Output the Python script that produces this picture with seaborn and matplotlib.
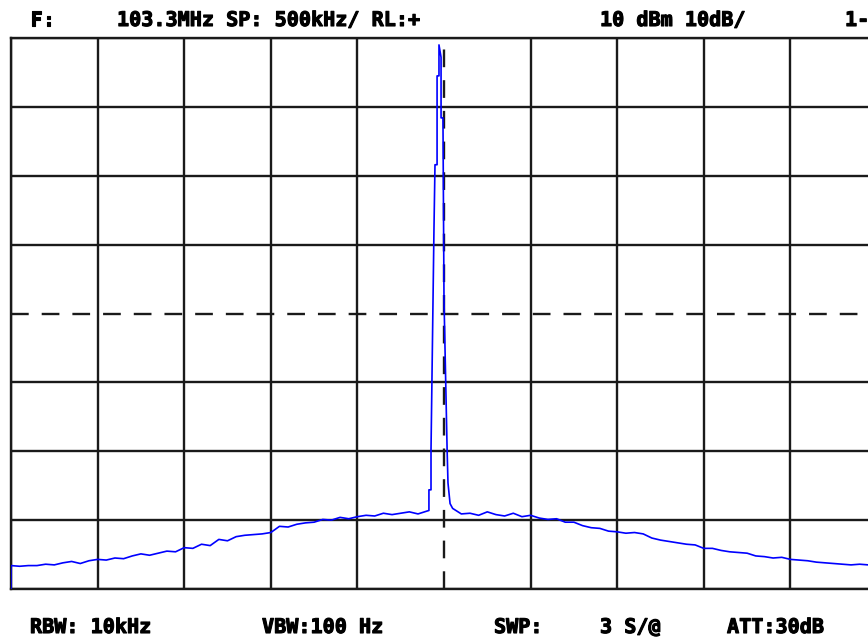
import matplotlib
matplotlib.use("Agg")
import matplotlib.pyplot as plt
import matplotlib.patheffects as pe
import seaborn as sns
import pandas as pd

# ---- data ----
freq_left = [100.80, 100.85, 100.90, 100.95, 101.00, 101.05, 101.10, 101.15, 101.20, 101.25,
             101.30, 101.35, 101.40, 101.45, 101.50, 101.55, 101.60, 101.65, 101.70, 101.75,
             101.80, 101.85, 101.90, 101.95, 102.00, 102.05, 102.10, 102.15, 102.20, 102.25,
             102.30, 102.35, 102.40, 102.45, 102.50, 102.55, 102.60, 102.65, 102.70, 102.75,
             102.80, 102.85, 102.90, 102.95, 103.00, 103.05, 103.10, 103.15, 103.20]
level_left = [-66.6, -66.7, -66.6, -66.6, -66.4, -66.5, -66.2, -66.0, -66.3, -65.9,
              -65.7, -65.8, -65.5, -65.6, -65.2, -64.9, -65.1, -64.8, -64.5, -64.6,
              -64.0, -64.1, -63.5, -63.7, -62.8, -63.0, -62.4, -62.2, -62.1, -62.0,
              -61.8, -60.9, -61.0, -60.6, -60.4, -60.3, -59.9, -60.0, -59.6, -59.8,
              -59.5, -59.3, -59.4, -59.0, -59.2, -59.0, -58.8, -59.1, -58.7]

freq_peak = [103.213, 103.213, 103.225, 103.225, 103.242, 103.248, 103.260, 103.260,
             103.271, 103.271, 103.283, 103.283, 103.294, 103.300, 103.318, 103.323,
             103.335, 103.350]
level_peak = [-58.6, -55.6, -55.6, -49.8, -17.9, -8.4, -8.4, 4.5,
              4.5, 9.0, 7.2, -1.6, -1.6, -28.0, -49.8, -54.6,
              -57.6, -58.3]

freq_right = [103.40, 103.45, 103.50, 103.55, 103.60, 103.65, 103.70, 103.75, 103.80, 103.85,
              103.90, 103.95, 104.00, 104.05, 104.10, 104.15, 104.20, 104.25, 104.30, 104.35,
              104.40, 104.45, 104.50, 104.55, 104.60, 104.65, 104.70, 104.75, 104.80, 104.85,
              104.90, 104.95, 105.00, 105.05, 105.10, 105.15, 105.20, 105.25, 105.30, 105.35,
              105.40, 105.45, 105.50, 105.55, 105.60, 105.65, 105.70, 105.75, 105.80]
level_right = [-59.1, -59.0, -59.3, -58.8, -59.2, -59.4, -59.0, -59.5, -59.3, -59.7,
               -59.9, -59.8, -60.3, -60.3, -60.8, -61.1, -61.2, -61.6, -61.7, -61.9,
               -61.8, -62.0, -62.6, -62.9, -63.1, -63.3, -63.5, -63.6, -64.1, -64.1,
               -64.4, -64.6, -64.7, -64.8, -65.2, -65.3, -65.5, -65.4, -65.7, -65.8,
               -65.9, -66.1, -66.2, -66.3, -66.4, -66.5, -66.4, -66.5, -66.6]

start_freq = [100.80]
start_level = [-70.0]

x_grid = [100.8, 101.3, 101.8, 102.3, 102.8, 103.8, 104.3, 104.8, 105.3, 105.8]
y_grid = [-70, -60, -50, -40, -20, -10, 0, 10]
center_freq = 103.3
mid_level = -30
x_range = (100.8, 105.8)
y_range = (-70, 10)

top_texts = ["F:", "103.3MHz SP: 500kHz/ RL:+", "10 dBm 10dB/", "1-"]
top_x = [30, 117, 600, 845]
bottom_texts = ["RBW: 10kHz", "VBW:100 Hz", "SWP:", "3 S/@", "ATT:30dB"]
bottom_x = [30, 262, 494, 600, 727]

# ---- figure ----
sns.set_style("white")
W, H = 868, 639
fig = plt.figure(figsize=(W / 100, H / 100), dpi=100)
fig.patch.set_facecolor("white")
ax = fig.add_axes([11 / W, 1 - 589 / H, 866 / W, 551 / H])

df = pd.DataFrame({
    "freq": start_freq + freq_left + freq_peak + freq_right,
    "level": start_level + level_left + level_peak + level_right,
})

ax.set_xlim(*x_range)
ax.set_ylim(*y_range)
ax.set_xticks(x_grid)
ax.set_yticks(y_grid)
ax.grid(True, color="#1a1a1a", linewidth=1.7, zorder=1)
ax.set_axisbelow(True)
ax.tick_params(length=0, labelbottom=False, labelleft=False)
for s in ax.spines.values():
    s.set_color("#1a1a1a")
    s.set_linewidth(1.7)

ax.axvline(center_freq, color="#1a1a1a", linewidth=1.7, dashes=(7.5, 5.5), zorder=1)
ax.axhline(mid_level, color="#1a1a1a", linewidth=1.7, dashes=(7.5, 5.5), zorder=1)

sns.lineplot(data=df, x="freq", y="level", sort=False, estimator=None,
             color="#0000ff", linewidth=1.2, ax=ax, zorder=3)
ax.set_xlabel("")
ax.set_ylabel("")

font = dict(family="DejaVu Sans Mono", fontweight="bold", fontsize=14.5, color="black")
stroke = [pe.withStroke(linewidth=0.8, foreground="black")]
for t, x in zip(top_texts, top_x):
    fig.text(x / W, 1 - 26 / H, t, ha="left", va="baseline", path_effects=stroke, **font)
for t, x in zip(bottom_texts, bottom_x):
    fig.text(x / W, 1 - 633 / H, t, ha="left", va="baseline", path_effects=stroke, **font)

fig.savefig("out.png", dpi=100, facecolor="white")
